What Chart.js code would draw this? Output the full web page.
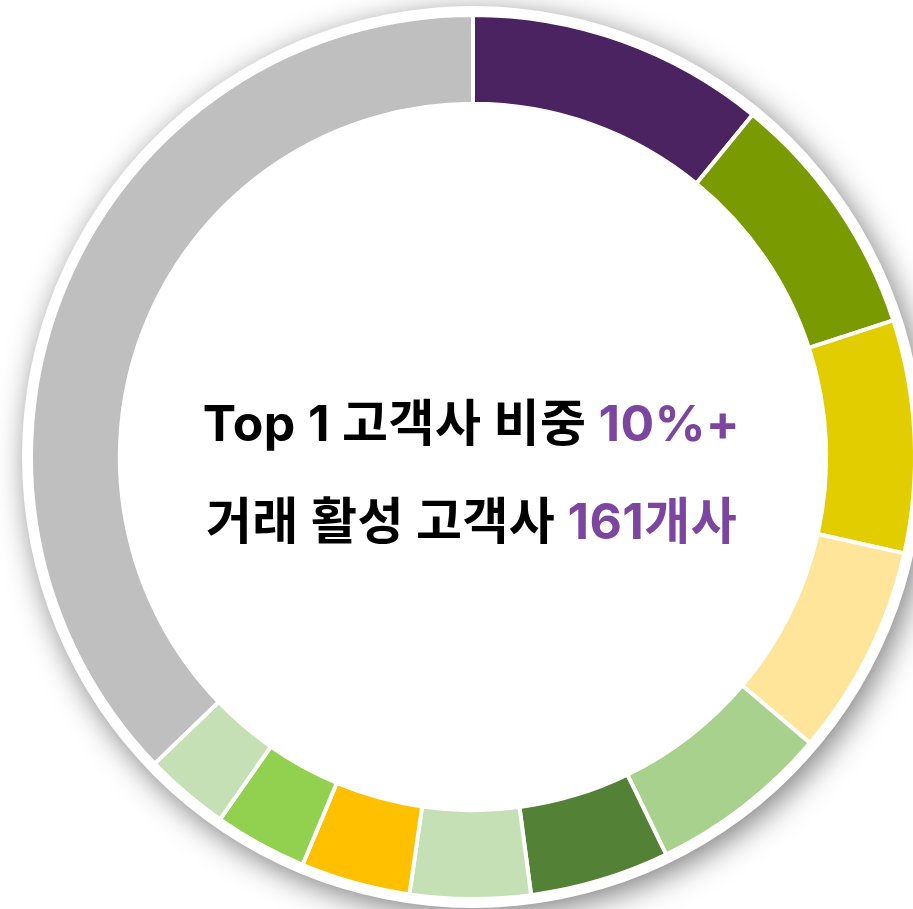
<!DOCTYPE html>
<html lang="ko">
<head>
<meta charset="utf-8">
<script src="https://cdn.jsdelivr.net/npm/chart.js@4.4.1/dist/chart.umd.min.js"></script>
<style>
  html, body { margin: 0; padding: 0; width: 913px; height: 909px; overflow: hidden; background: #fff; }
  #wrap { position: absolute; left: -7px; top: -23px; width: 960px; height: 960px; }
  .center-text {
    position: absolute; left: 0; width: 943px; text-align: center;
    font-family: "Inter", "Noto Sans CJK KR", sans-serif; font-weight: 700;
    font-size: 50px; color: #000; white-space: nowrap; letter-spacing: 0.4px;
  }
  .center-text .hl { color: #7B45A0; }
  #line1 { top: 383px; }
  #line2 { top: 481px; }
</style>
</head>
<body>
<div id="wrap"><canvas id="donutChart"></canvas></div>
<div class="center-text" id="line1">Top 1 고객사 비중 <span class="hl">10%+</span></div>
<div class="center-text" id="line2">거래 활성 고객사 <span class="hl">161개사</span></div>
<script>
// customer share, clockwise from 12 o'clock (%)
const customers = ['고객사 1', '고객사 2', '고객사 3', '고객사 4', '고객사 5', '고객사 6',
                   '고객사 7', '고객사 8', '고객사 9', '고객사 10', '기타'];
const shares = [10.9, 9.1, 8.5, 7.7, 6.6, 5.1, 4.4, 4.0, 3.4, 3.1, 37.2];
const sliceColors = ['#4B2360', '#7A9A01', '#E1CD00', '#FFE599', '#A9D18E', '#538135',
                     '#C5E0B4', '#FFC000', '#92D050', '#C5E0B4', '#BFBFBF'];

// white disc with soft shadow behind the ring
const discPlugin = {
    id: 'disc',
    beforeDatasetsDraw(chart) {
        const arc = chart.getDatasetMeta(0).data[0];
        if (!arc) return;
        const ctx = chart.ctx;
        ctx.save();
        ctx.shadowColor = 'rgba(0, 0, 0, 0.5)';
        ctx.shadowBlur = 30;
        ctx.shadowOffsetX = 5;
        ctx.shadowOffsetY = 7;
        ctx.fillStyle = '#ffffff';
        ctx.beginPath();
        ctx.arc(arc.x, arc.y, arc.outerRadius + 9, 0, Math.PI * 2);
        ctx.fill();
        ctx.restore();
    }
};

new Chart(document.getElementById('donutChart').getContext('2d'), {
    type: 'doughnut',
    data: {
        labels: customers,
        datasets: [{ data: shares, backgroundColor: sliceColors, borderColor: '#ffffff', borderWidth: 4 }]
    },
    options: {
        responsive: true,
        maintainAspectRatio: false,
        animation: false,
        cutout: '79.9%',
        layout: { padding: 36 },
        plugins: { legend: { display: false }, tooltip: { enabled: false } }
    },
    plugins: [discPlugin]
});
</script>
</body>
</html>
